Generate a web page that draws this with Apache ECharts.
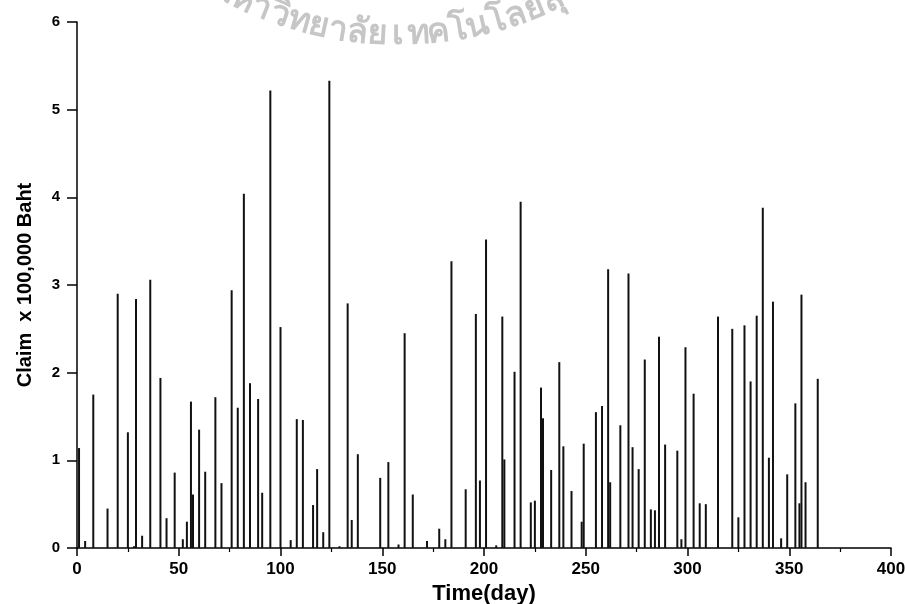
<!DOCTYPE html>
<html>
<head>
<meta charset="utf-8">
<script src="https://cdn.jsdelivr.net/npm/echarts@6/dist/echarts.min.js"></script>
<style>
  html, body { margin: 0; padding: 0; background: #fff; }
  #chart { width: 905px; height: 604px; }
</style>
</head>
<body>
<div id="chart"></div>
<script>
// day of each claim
const days = [1, 4, 8, 15, 20, 25, 28, 29, 32, 36, 41, 44, 48, 52, 54, 56, 57, 60, 63, 68,
  71, 76, 79, 82, 85, 89, 91, 95, 100, 105, 108, 111, 116, 118, 121, 124, 129, 133, 135, 138,
  149, 153, 158, 161, 165, 172, 178, 181, 184, 191, 196, 198, 201, 206, 209, 210, 215, 218, 223, 225,
  228, 229, 233, 237, 239, 243, 248, 249, 255, 258, 261, 262, 267, 271, 273, 276, 279, 282, 284, 286,
  289, 295, 297, 299, 303, 306, 309, 315, 322, 325, 328, 331, 334, 337, 340, 342, 346, 349, 353, 355,
  356, 358, 364];
// claim size, x 100,000 Baht
const claims = [1.14, 0.08, 1.75, 0.45, 2.9, 1.32, 0.02, 2.84, 0.14, 3.06, 1.94, 0.34, 0.86, 0.1, 0.3, 1.67, 0.61, 1.35, 0.87, 1.72,
  0.74, 2.94, 1.6, 4.04, 1.88, 1.7, 0.63, 5.22, 2.52, 0.09, 1.47, 1.46, 0.49, 0.9, 0.18, 5.33, 0.02, 2.79, 0.32, 1.07,
  0.8, 0.98, 0.04, 2.45, 0.61, 0.08, 0.22, 0.1, 3.27, 0.67, 2.67, 0.77, 3.52, 0.03, 2.64, 1.01, 2.01, 3.95, 0.52, 0.54,
  1.83, 1.48, 0.89, 2.12, 1.16, 0.65, 0.3, 1.19, 1.55, 1.62, 3.18, 0.75, 1.4, 3.13, 1.15, 0.9, 2.15, 0.44, 0.43, 2.41,
  1.18, 1.11, 0.1, 2.29, 1.76, 0.51, 0.5, 2.64, 2.5, 0.35, 2.54, 1.9, 2.65, 3.88, 1.03, 2.81, 0.11, 0.84, 1.65, 0.51,
  2.89, 0.75, 1.93];

const xName = 'Time(day)';
const yName = 'Claim  x 100,000 Baht';
// watermark pieces, in reading order
const stamp = ['ม', 'ห', 'า', 'วิ', 'ท', 'ย', 'า', 'ลั', 'ย', 'เ', 'ท', 'ค', 'โ', 'น', 'โ', 'ล', 'ยี', 'สุ', 'ร', 'น', 'า', 'รี'];

const chart = echarts.init(document.getElementById('chart'));

// lay the watermark along an arc
const R = 380, cx = 398, cy = 52 - R, step = 21 / R;
const stampItems = stamp.map((ch, i) => {
  const a = (i - 9) * step;
  return {
    type: 'text',
    x: cx + R * Math.sin(a),
    y: cy + R * Math.cos(a),
    rotation: a,
    silent: true,
    z: -10,
    style: {
      text: ch,
      fill: '#c6c6c6',
      font: 'bold 34px sans-serif',
      align: 'center',
      verticalAlign: 'bottom'
    }
  };
});

const axisFont = { color: '#000', fontFamily: 'Liberation Sans, Arial', fontWeight: 'bold' };

chart.setOption({
  animation: false,
  backgroundColor: '#fff',
  graphic: stampItems,
  grid: { left: 77, right: 14, top: 22, bottom: 56, outerBoundsMode: 'none', containLabel: false },
  xAxis: {
    type: 'value',
    min: 0, max: 400, interval: 50,
    name: xName,
    nameLocation: 'middle',
    nameGap: 33,
    nameTextStyle: Object.assign({ fontSize: 22 }, axisFont),
    axisLine: { lineStyle: { color: '#000', width: 1.5 } },
    axisTick: { length: 8, lineStyle: { color: '#000', width: 1.5 } },
    minorTick: { show: true, splitNumber: 2, length: 4, lineStyle: { color: '#000', width: 1.2 } },
    axisLabel: Object.assign({ fontSize: 17, margin: 13 }, axisFont),
    splitLine: { show: false }
  },
  yAxis: {
    type: 'value',
    min: 0, max: 6, interval: 1,
    name: yName,
    nameLocation: 'middle',
    nameGap: 42,
    nameTextStyle: Object.assign({ fontSize: 20 }, axisFont),
    axisLine: { show: true, lineStyle: { color: '#000', width: 1.5 } },
    axisTick: { show: true, length: 10, lineStyle: { color: '#000', width: 1.5 } },
    axisLabel: Object.assign({ fontSize: 15, margin: 17 }, axisFont),
    splitLine: { show: false }
  },
  series: [{
    type: 'bar',
    barWidth: 2,
    itemStyle: { color: '#111' },
    data: days.map((d, i) => [d, claims[i]])
  }]
});
</script>
</body>
</html>
